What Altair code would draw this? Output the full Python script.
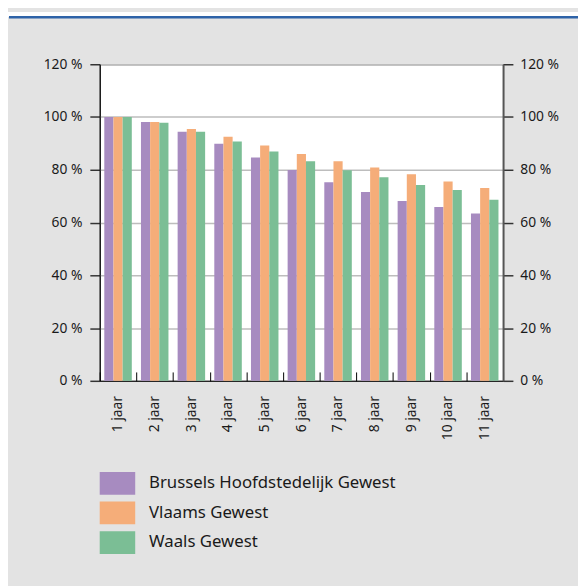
import altair as alt
import pandas as pd

categories = ["1 jaar", "2 jaar", "3 jaar", "4 jaar", "5 jaar", "6 jaar",
              "7 jaar", "8 jaar", "9 jaar", "10 jaar", "11 jaar"]
series = ["Brussels Hoofdstedelijk Gewest", "Vlaams Gewest", "Waals Gewest"]
brussel = [100, 98.1, 94.4, 89.9, 84.7, 79.9, 75.3, 71.6, 68.2, 65.9, 63.4]
vlaams = [100, 98.1, 95.5, 92.5, 89.2, 86.0, 83.2, 80.9, 78.3, 75.6, 73.1]
waals = [100, 97.8, 94.4, 90.7, 86.9, 83.2, 79.8, 77.2, 74.2, 72.3, 68.6]
y_ticks = [0, 20, 40, 60, 80, 100, 120]
colors = ["#a78bc0", "#f5ad79", "#7bbe95"]

rows = []
for name, vals in zip(series, [brussel, vlaams, waals]):
    for c, v in zip(categories, vals):
        rows.append({"jaar": c, "gewest": name, "waarde": v})
df = pd.DataFrame(rows)

FONT = "Noto Sans"
W, H = 409, 321

x_enc = alt.X(
    "jaar:N", sort=categories, title=None,
    scale=alt.Scale(paddingInner=0, paddingOuter=0),
    axis=alt.Axis(
        domain=True, domainColor="#000", domainWidth=1,
        ticks=True, tickBand="extent", tickSize=alt.ExprRef("-9"),
        tickColor="#000", tickWidth=1,
        labelAngle=270, labelFontSize=14, labelFont=FONT, labelColor="#1a1a1a",
        labelPadding=24, grid=False,
    ),
)
xo_enc = alt.XOffset("gewest:N", sort=series,
                     scale=alt.Scale(paddingInner=0, paddingOuter=0.5))
color_enc = alt.Color(
    "gewest:N", sort=series,
    scale=alt.Scale(domain=series, range=colors),
    legend=alt.Legend(
        title=None, orient="none", legendX=3, legendY=410,
        direction="vertical", padding=0,
        symbolType="M-1.2,-0.767H1.2V0.767H-1.2Z", symbolSize=900,
        symbolStrokeWidth=0, symbolOpacity=1,
        labelFont=FONT, labelFontSize=17, labelColor="#1a1a1a",
        labelOffset=17, rowPadding=3, labelLimit=400,
    ),
)

bars = alt.Chart(df).mark_bar(strokeWidth=0).encode(
    x=x_enc,
    xOffset=xo_enc,
    y=alt.Y("waarde:Q", title=None,
            scale=alt.Scale(domain=[0, 120], nice=False),
            axis=alt.Axis(orient="left", values=y_ticks,
                          labelExpr="datum.value + ' %'",
                          grid=True, gridColor="#bdbdbd", gridWidth=1.5,
                          domainColor="#000", domainWidth=1,
                          tickColor="#333", tickSize=10, tickWidth=1.5,
                          labelPadding=8, labelFont=FONT, labelFontSize=14,
                          labelColor="#1a1a1a")),
    color=color_enc,
)

right = alt.Chart(df).mark_bar(opacity=0).encode(
    x=alt.X("jaar:N", sort=categories),
    xOffset=xo_enc,
    y=alt.Y("waarde:Q", title=None,
            scale=alt.Scale(domain=[0, 120], nice=False),
            axis=alt.Axis(orient="right", values=y_ticks,
                          labelExpr="datum.value + ' %'",
                          grid=False,
                          domainColor="#555", domainWidth=2,
                          tickColor="#333", tickSize=10, tickWidth=1.5,
                          labelPadding=7, labelFont=FONT, labelFontSize=14,
                          labelColor="#1a1a1a")),
)

deco = pd.DataFrame({"k": [0]})
white_strip = alt.Chart(deco).mark_rect(color="white").encode(
    x=alt.value(-93), x2=alt.value(W + 76),
    y=alt.value(-53), y2=alt.value(-48),
)
blue_line = alt.Chart(deco).mark_rule(color="#2e63a8", strokeWidth=2.5).encode(
    x=alt.value(-92), x2=alt.value(W + 76),
    y=alt.value(-47.7),
)

chart = alt.layer(bars, right, white_strip, blue_line).resolve_axis(
    y="independent"
).properties(
    width=W, height=H,
    autosize=alt.AutoSizeParams(type="none"),
    padding={"left": 93, "top": 53, "right": 76, "bottom": 204},
    background="#e3e3e3",
).configure_view(
    fill="white", stroke="#222", strokeWidth=1,
)

chart.save("out.html", embed_options={"renderer": "svg", "actions": False})
